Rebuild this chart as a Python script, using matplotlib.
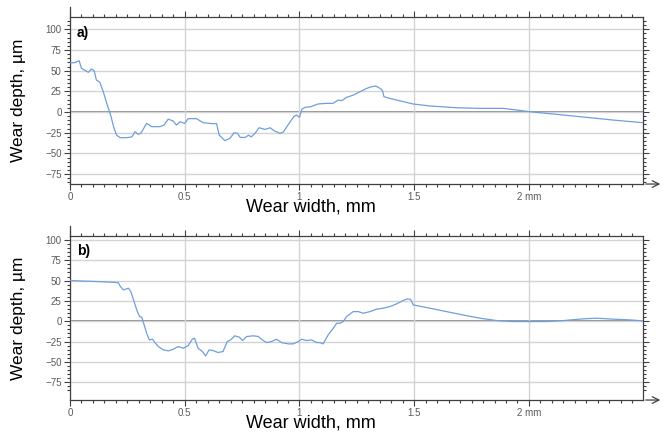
import matplotlib.pyplot as plt
import numpy as np

plt.rcParams["font.family"] = ["Liberation Sans", "DejaVu Sans"]

# profile a): wear width (mm) vs wear depth (um)
width_a = [0.0, 0.02, 0.04, 0.05, 0.068, 0.08, 0.093, 0.105, 0.115, 0.13, 0.145, 0.16,
           0.177, 0.19, 0.203, 0.218, 0.247, 0.27, 0.283, 0.298, 0.31, 0.334, 0.356,
           0.392, 0.41, 0.428, 0.45, 0.464, 0.479, 0.5, 0.515, 0.551, 0.58, 0.617,
           0.639, 0.65, 0.675, 0.697, 0.715, 0.73, 0.742, 0.763, 0.778, 0.79, 0.806,
           0.824, 0.85, 0.872, 0.89, 0.915, 0.93, 0.95, 0.975, 0.987, 1.0, 1.01,
           1.023, 1.05, 1.08, 1.117, 1.146, 1.169, 1.184, 1.205, 1.235, 1.264,
           1.293, 1.314, 1.333, 1.351, 1.362, 1.368, 1.394, 1.423, 1.496, 1.569,
           1.685, 1.787, 1.889, 1.947, 2.004, 2.077, 2.222, 2.367, 2.498]
depth_a = [59.6, 59.6, 62.0, 52.8, 50.0, 48.0, 52.0, 50.0, 38.7, 36.0, 24.6, 10.5,
           -3.6, -17.7, -27.8, -31.0, -31.0, -30.0, -23.8, -27.0, -25.0, -13.7, -17.7,
           -17.7, -15.7, -8.5, -11.0, -15.7, -11.8, -13.7, -8.0, -8.0, -12.8, -14.0,
           -14.0, -27.8, -34.6, -31.8, -25.0, -25.8, -30.7, -30.7, -28.0, -30.0, -25.8,
           -19.0, -21.0, -19.0, -22.7, -25.8, -24.0, -15.7, -5.6, -3.6, -6.4, 3.2,
           5.6, 6.5, 9.7, 10.5, 10.5, 14.5, 13.7, 17.7, 20.5, 24.6,
           28.6, 30.6, 31.4, 28.6, 25.8, 18.5, 16.5, 14.5, 9.7, 7.3,
           5.2, 4.4, 4.4, 2.4, 0.4, -1.6, -5.6, -9.7, -12.9]

# profile b)
width_b = [0.0, 0.13, 0.21, 0.22, 0.233, 0.255, 0.265, 0.277, 0.291, 0.303, 0.313,
           0.323, 0.334, 0.346, 0.36, 0.37, 0.385, 0.407, 0.429, 0.45, 0.471, 0.493,
           0.514, 0.533, 0.543, 0.558, 0.577, 0.591, 0.606, 0.623, 0.645, 0.667,
           0.685, 0.7, 0.718, 0.738, 0.752, 0.77, 0.8, 0.82, 0.842, 0.857, 0.878,
           0.9, 0.922, 0.951, 0.973, 0.995, 1.01, 1.031, 1.053, 1.074, 1.089, 1.103,
           1.125, 1.147, 1.162, 1.176, 1.191, 1.205, 1.234, 1.256, 1.278, 1.307,
           1.336, 1.365, 1.394, 1.423, 1.452, 1.469, 1.484, 1.496, 1.568, 1.641,
           1.713, 1.786, 1.859, 1.932, 2.004, 2.077, 2.15, 2.237, 2.295, 2.368,
           2.44, 2.498]
depth_b = [50.0, 48.7, 47.5, 42.6, 38.5, 40.6, 36.4, 26.2, 13.9, 5.7, 4.9,
           -4.5, -14.8, -23.0, -22.2, -26.3, -31.2, -35.3, -36.5, -34.5, -31.2, -33.2,
           -30.3, -22.2, -21.0, -33.2, -37.3, -42.7, -35.3, -36.1, -38.5, -37.3,
           -25.0, -23.0, -18.0, -19.7, -23.8, -18.8, -18.0, -18.8, -23.8, -26.3, -25.0,
           -22.2, -26.3, -27.9, -27.9, -25.0, -22.2, -23.8, -23.0, -26.3, -26.3, -27.9,
           -16.9, -8.7, -2.5, -2.5, -0.4, 5.7, 11.8, 11.8, 9.8, 11.8,
           14.8, 16.0, 18.0, 21.3, 25.4, 27.4, 27.0, 20.0, 16.0, 11.8,
           7.7, 3.7, 0.8, -0.4, -0.4, -0.4, 0.8, 2.9, 3.7, 2.5,
           1.6, 0.4]

x_ticks = [0, 0.5, 1, 1.5, 2]
x_tick_labels = ["0", "0.5", "1", "1.5", "2 mm"]
y_ticks = [-75, -50, -25, 0, 25, 50, 75, 100]

LINE_COLOR = "#6f9fdc"
GRID_COLOR = "#d4d4d4"
TICK_COLOR = "#5a5a5a"

fig = plt.figure(figsize=(6.64, 4.32), dpi=100)
ax_a = fig.add_axes([0.1054, 0.574, 0.863, 0.386])
ax_b = fig.add_axes([0.1054, 0.074, 0.863, 0.380])


def style_axis(ax, ylim, tag):
    ax.set_xlim(0, 2.497)
    ax.set_ylim(*ylim)
    ax.set_xticks(x_ticks)
    ax.set_xticklabels(x_tick_labels)
    ax.set_xticks(np.arange(0, 2.5, 0.05), minor=True)
    ax.set_yticks(y_ticks)
    ax.set_yticks(np.arange(-85, ylim[1], 5), minor=True)
    ax.grid(True, which="major", color=GRID_COLOR, linewidth=1.0)
    ax.axhline(0, color="#6e6e6e", linewidth=1.1, zorder=1.5)
    for side in ("left", "right", "top", "bottom"):
        ax.spines[side].set_color("#404040")
        ax.spines[side].set_linewidth(0.9)
    ax.tick_params(which="both", direction="out", color="#404040", width=0.8,
                   top=True, right=True, labelsize=7, labelcolor=TICK_COLOR, pad=2)
    ax.tick_params(which="major", length=4)
    ax.tick_params(which="minor", length=2)
    ax.set_ylabel("Wear depth, µm", fontsize=12.5, labelpad=14)
    ax.set_xlabel("Wear width, mm", fontsize=13)
    ax.xaxis.set_label_coords(0.42, -0.088)
    ax.text(0.012, 0.95, tag, transform=ax.transAxes, fontsize=10, fontweight="bold",
            ha="left", va="top")
    ax.annotate("", xy=(1.035, 0), xytext=(1.0, 0), xycoords="axes fraction",
                arrowprops=dict(arrowstyle="->", color="#404040", lw=0.9,
                                mutation_scale=12))
    ax.plot([0, 0], [1.0, 1.06], transform=ax.transAxes, color="#404040",
            linewidth=0.9, clip_on=False)


ax_a.plot(width_a, depth_a, color=LINE_COLOR, linewidth=0.9, zorder=3)
style_axis(ax_a, (-87, 114.5), "a)")

ax_b.plot(width_b, depth_b, color=LINE_COLOR, linewidth=0.9, zorder=3)
style_axis(ax_b, (-97, 105), "b)")

fig.savefig("out.png", dpi=100)
